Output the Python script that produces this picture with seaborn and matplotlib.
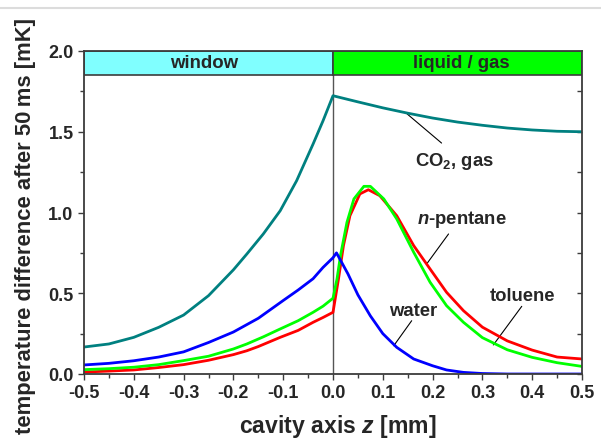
import numpy as np
import pandas as pd
import matplotlib
matplotlib.use("Agg")
import matplotlib.pyplot as plt
from matplotlib.lines import Line2D
from matplotlib.ticker import MultipleLocator
import seaborn as sns

# ---------------- data ----------------
co2_z = [-0.5, -0.45, -0.4, -0.35, -0.3, -0.25, -0.2, -0.173, -0.14, -0.106, -0.073,
         -0.04, -0.02, 0.0, 0.05, 0.1, 0.15, 0.2, 0.25, 0.3, 0.35, 0.4, 0.45, 0.5]
co2_t = [0.167, 0.186, 0.227, 0.289, 0.365, 0.485, 0.645, 0.743, 0.867, 1.011, 1.197,
         1.424, 1.568, 1.723, 1.685, 1.648, 1.615, 1.585, 1.56, 1.54, 1.523, 1.511, 1.503, 1.50]

water_z = [-0.5, -0.45, -0.4, -0.35, -0.3, -0.25, -0.2, -0.15, -0.1, -0.07, -0.04, -0.02,
           0.0, 0.007, 0.03, 0.05, 0.075, 0.1, 0.128, 0.162, 0.2, 0.228, 0.262, 0.3, 0.35,
           0.4, 0.45, 0.5]
water_t = [0.056, 0.066, 0.082, 0.105, 0.137, 0.195, 0.26, 0.345, 0.455, 0.52, 0.59, 0.66,
           0.72, 0.75, 0.62, 0.49, 0.36, 0.25, 0.165, 0.093, 0.051, 0.025, 0.01, 0.003, 0.0,
           0.0, 0.0, 0.0]

pentane_z = [-0.5, -0.45, -0.4, -0.35, -0.3, -0.25, -0.2, -0.173, -0.15, -0.106, -0.07,
             -0.04, -0.02, 0.0, 0.011, 0.021, 0.034, 0.054, 0.071, 0.094, 0.128, 0.162,
             0.195, 0.228, 0.262, 0.3, 0.35, 0.4, 0.45, 0.5]
pentane_t = [0.012, 0.018, 0.025, 0.04, 0.058, 0.085, 0.12, 0.144, 0.17, 0.227, 0.27,
             0.32, 0.35, 0.382, 0.588, 0.795, 0.98, 1.115, 1.141, 1.104, 0.98, 0.795,
             0.65, 0.506, 0.392, 0.29, 0.205, 0.148, 0.105, 0.093]

toluene_z = [-0.5, -0.45, -0.4, -0.35, -0.3, -0.25, -0.2, -0.173, -0.14, -0.106, -0.07,
             -0.04, -0.02, 0.0, 0.008, 0.015, 0.028, 0.042, 0.062, 0.075, 0.102, 0.128,
             0.162, 0.195, 0.228, 0.262, 0.3, 0.35, 0.4, 0.45, 0.5]
toluene_t = [0.027, 0.033, 0.042, 0.058, 0.083, 0.11, 0.155, 0.186, 0.23, 0.279, 0.33,
             0.382, 0.42, 0.469, 0.588, 0.733, 0.939, 1.084, 1.162, 1.162, 1.084, 0.96,
             0.754, 0.568, 0.423, 0.32, 0.225, 0.15, 0.103, 0.07, 0.047]

series_names = ["CO2", "n-pentane", "toluene", "water"]
series_colors = ["#008080", "#FF0000", "#00FF00", "#0000FF"]

x_ticks = [-0.5, -0.4, -0.3, -0.2, -0.1, 0.0, 0.1, 0.2, 0.3, 0.4, 0.5]
x_ticklabels = ["-0.5", "-0.4", "-0.3", "-0.2", "-0.1", "0.0", "0.1", "0.2", "0.3", "0.4", "0.5"]
y_ticks = [0.0, 0.5, 1.0, 1.5, 2.0]
y_ticklabels = ["0.0", "0.5", "1.0", "1.5", "2.0"]

region_names = ["window", "liquid / gas"]
region_colors = ["#80FFFF", "#00FF00"]

# ---------------- styling ----------------
sns.set_theme(style="ticks")
plt.rcParams["font.family"] = ["Liberation Sans", "DejaVu Sans"]
plt.rcParams["font.weight"] = "bold"
plt.rcParams["mathtext.fontset"] = "custom"
plt.rcParams["mathtext.rm"] = "Liberation Sans:bold"
plt.rcParams["mathtext.it"] = "Liberation Sans:bold:italic"
plt.rcParams["mathtext.bf"] = "Liberation Sans:bold"

frames = []
for name, z, t in [("CO2", co2_z, co2_t), ("n-pentane", pentane_z, pentane_t),
                   ("toluene", toluene_z, toluene_t), ("water", water_z, water_t)]:
    frames.append(pd.DataFrame({"z": z, "T": t, "series": name}))
df = pd.concat(frames, ignore_index=True)

fig = plt.figure(figsize=(6.01, 4.39), dpi=100)
ax = fig.add_axes([84 / 601, 1 - 375 / 439, (582 - 84) / 601, (375 - 52) / 439])

sns.lineplot(data=df, x="z", y="T", hue="series", hue_order=series_names,
             palette=series_colors, estimator=None, sort=False, lw=2.0,
             legend=False, ax=ax, zorder=3)

ax.set_xlim(-0.5, 0.5)
ax.set_ylim(0.0, 2.0)

# banner
axc = "#3c3c3c"
ax.axvspan(-0.5, 0.0, ymin=1.85 / 2.0, ymax=1.0, facecolor=region_colors[0],
           edgecolor=axc, lw=1.2, zorder=4)
ax.axvspan(0.0, 0.5, ymin=1.85 / 2.0, ymax=1.0, facecolor=region_colors[1],
           edgecolor=axc, lw=1.2, zorder=4)
ax.axvline(0.0, color="#555555", lw=1.0, zorder=2)
ax.text(-0.258, 1.926, region_names[0], ha="center", va="center", fontsize=13.4,
        fontweight="bold", zorder=5)
ax.text(0.257, 1.926, region_names[1], ha="center", va="center", fontsize=13.4,
        fontweight="bold", zorder=5)

# annotations
lab_fs = 13.3
ax.text(0.243, 1.325, "CO$_2$, gas", ha="center", va="center", fontsize=lab_fs, fontweight="bold")
ax.plot([0.149, 0.218], [1.61, 1.43], color="black", lw=0.8)
ax.text(0.259, 0.96, "$n$-pentane", ha="center", va="center", fontsize=lab_fs, fontweight="bold")
ax.plot([0.188, 0.232], [0.681, 0.867], color="black", lw=0.8)
ax.text(0.380, 0.483, "toluene", ha="center", va="center", fontsize=lab_fs, fontweight="bold")
ax.plot([0.322, 0.379], [0.18, 0.419], color="black", lw=0.8)
ax.text(0.161, 0.396, "water", ha="center", va="center", fontsize=lab_fs, fontweight="bold")
ax.plot([0.122, 0.158], [0.175, 0.33], color="black", lw=0.8)

# axes & ticks
for s in ax.spines.values():
    s.set_color(axc)
    s.set_linewidth(1.3)
    s.set_zorder(6)
ax.set_xticks(x_ticks)
ax.set_xticklabels(x_ticklabels)
ax.set_yticks(y_ticks)
ax.set_yticklabels(y_ticklabels)
ax.xaxis.set_minor_locator(MultipleLocator(0.05))
ax.yaxis.set_minor_locator(MultipleLocator(0.25))
ax.tick_params(axis="both", which="major", direction="out", length=4.5, width=1.0,
               color=axc, labelsize=13, pad=3)
ax.tick_params(axis="both", which="minor", direction="out", length=2.6, width=1.0, color=axc)
for lbl in ax.get_xticklabels() + ax.get_yticklabels():
    lbl.set_fontweight("bold")

sec = ax.secondary_yaxis("right")
sec.set_yticks(y_ticks)
sec.yaxis.set_minor_locator(MultipleLocator(0.25))
sec.tick_params(axis="y", which="both", direction="in", length=3.6, width=1.0,
                color=axc, labelright=False)
sec.spines["right"].set_visible(False)

ax.set_xlabel("cavity axis $z$ [mm]", fontsize=16.6, fontweight="bold")
ax.xaxis.set_label_coords(0.509, -0.118)
ax.set_ylabel("temperature difference after 50\u2009ms [mK]", fontsize=15.8,
              fontweight="bold")
ax.yaxis.set_label_coords(-0.0964, 0.461)

fig.add_artist(Line2D([0, 1], [1 - 8.5 / 439] * 2, color="#dcdcdc", lw=1.5))

fig.savefig("out.png", dpi=100)
